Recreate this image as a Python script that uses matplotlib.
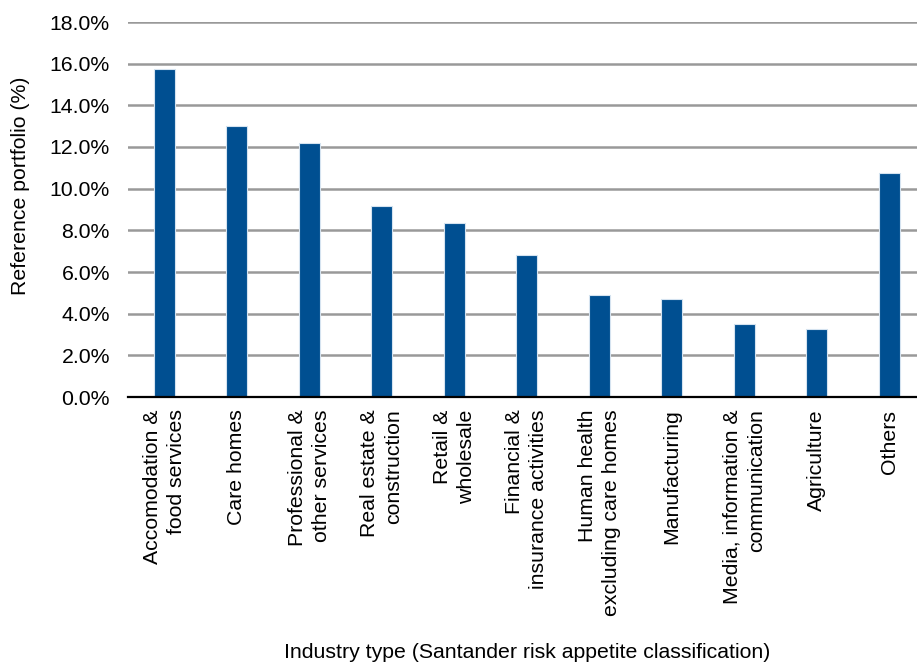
import matplotlib
matplotlib.use("Agg")
import matplotlib.pyplot as plt
from matplotlib.ticker import PercentFormatter

plt.rcParams['font.family'] = ['Liberation Sans', 'DejaVu Sans']

# industry categories (as printed, two lines where the chart wraps)
categories = [
    "Accomodation &\nfood services",
    "Care homes",
    "Professional &\nother services",
    "Real estate &\nconstruction",
    "Retail &\nwholesale",
    "Financial &\ninsurance activities",
    "Human health\nexcluding care homes",
    "Manufacturing",
    "Media, information &\ncommunication",
    "Agriculture",
    "Others",
]
# share of reference portfolio (%)
share = [15.75, 13.0, 12.2, 9.15, 8.37, 6.83, 4.91, 4.72, 3.49, 3.28, 10.77]
yticks = [0, 2, 4, 6, 8, 10, 12, 14, 16, 18]

W, H = 917, 666
fig = plt.figure(figsize=(W / 100, H / 100), dpi=100)
# axes runs slightly past the right edge, like the original
ax = fig.add_axes([128 / W, 1 - 397 / H, 797.5 / W, 375 / H])

x = range(len(categories))
ax.bar(x, share, width=0.29, color="#004F91", edgecolor="#d5e3f0",
       linewidth=0.8, zorder=3)

ax.set_xlim(-0.5, len(categories) - 0.5)
ax.set_ylim(0, 18)
ax.set_yticks(yticks)
ax.yaxis.set_major_formatter(PercentFormatter(decimals=1))
ax.grid(axis="y", color="#999999", linewidth=1.8, zorder=0)
ax.set_axisbelow(True)

for s in ["top", "right", "left"]:
    ax.spines[s].set_visible(False)
ax.spines["bottom"].set_color("black")
ax.spines["bottom"].set_linewidth(1.6)
ax.spines["bottom"].set_zorder(4)

ax.tick_params(axis="y", length=0, pad=13, labelsize=15.3, colors="black")
ax.tick_params(axis="x", length=0, pad=9)
ax.set_xticks(list(x))
ax.set_xticklabels(categories, rotation=90, fontsize=15.3, ha="center",
                   va="top", multialignment="right", linespacing=1.35)

ax.set_ylabel("Reference portfolio (%)", fontsize=15.3)
ax.yaxis.set_label_coords(-0.123, 0.563)
ax.set_xlabel("Industry type (Santander risk appetite classification)",
              fontsize=15.3)
ax.xaxis.set_label_coords(0.5, -0.655)

fig.savefig("out.png", dpi=100)
